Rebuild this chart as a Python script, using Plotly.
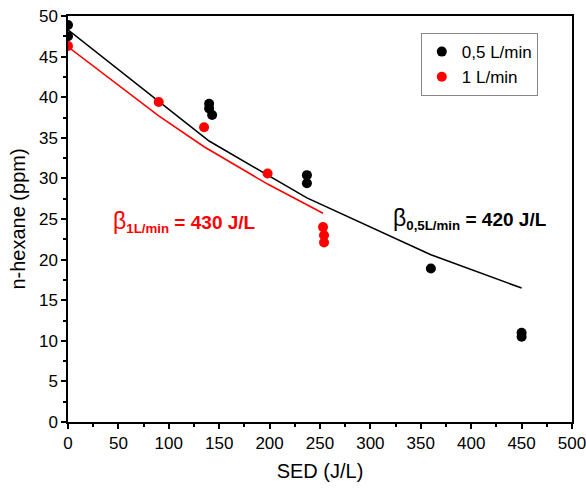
import plotly.graph_objects as go

# Data
sed_05 = [0, 0, 140, 140, 143, 237, 237, 360, 450, 450]
hex_05 = [48.9, 47.5, 39.2, 38.6, 37.8, 30.4, 29.4, 18.9, 11.0, 10.5]

sed_1 = [0, 90, 135, 198, 253, 254, 254]
hex_1 = [46.3, 39.4, 36.3, 30.6, 24.0, 23.0, 22.1]

fit_x_05 = [0, 140, 237, 360, 450]
fit_y_05 = [48.3, 34.6, 27.6, 20.6, 16.5]

fit_x_1 = [0, 90, 135, 198, 253]
fit_y_1 = [46.2, 37.7, 33.9, 29.3, 25.7]

x_ticks = [0, 50, 100, 150, 200, 250, 300, 350, 400, 450, 500]
y_ticks = [0, 5, 10, 15, 20, 25, 30, 35, 40, 45, 50]

FONT = "Liberation Sans, Arial, sans-serif"

fig = go.Figure()
fig.add_trace(go.Scatter(x=fit_x_05, y=fit_y_05, mode="lines",
                         line=dict(color="black", width=1.6), showlegend=False))
fig.add_trace(go.Scatter(x=fit_x_1, y=fit_y_1, mode="lines",
                         line=dict(color="#ff0000", width=1.6), showlegend=False))
fig.add_trace(go.Scatter(x=sed_05, y=hex_05, mode="markers", name="0,5 L/min",
                         marker=dict(color="black", size=10)))
fig.add_trace(go.Scatter(x=sed_1, y=hex_1, mode="markers", name="1 L/min",
                         marker=dict(color="#ff0000", size=10)))

fig.add_annotation(x=399, y=25.0, xref="x", yref="y", showarrow=False,
                   text="<span style='font-size:23px'>β</span><b><sub>0,5L/min</sub> = 420 J/L</b>",
                   font=dict(family=FONT, size=19, color="black"))
fig.add_annotation(x=116, y=24.6, xref="x", yref="y", showarrow=False,
                   text="<span style='font-size:23px'>β</span><b><sub>1L/min</sub> = 430 J/L</b>",
                   font=dict(family=FONT, size=19, color="#ff0000"))

axis_common = dict(
    showgrid=False, zeroline=False, showline=True, linecolor="black", linewidth=1.5,
    mirror=True, ticks="outside", ticklen=5, tickwidth=1.5, tickcolor="black",
    tickfont=dict(family=FONT, size=17, color="black"), automargin=False,
    ticklabeloverflow="allow",
)

fig.update_layout(
    width=586, height=489,
    margin=dict(l=68, r=14, t=16, b=67),
    plot_bgcolor="white", paper_bgcolor="white",
    font=dict(family=FONT, color="black"),
    xaxis=dict(range=[0, 500], tickvals=x_ticks, ticktext=[str(v) for v in x_ticks],
               minor=dict(ticks="outside", ticklen=3, tickwidth=1.5, tickcolor="black", dtick=25),
               title=dict(text="SED (J/L)", font=dict(family=FONT, size=20), standoff=12),
               **axis_common),
    yaxis=dict(range=[0, 50], tickvals=y_ticks, ticktext=[str(v) for v in y_ticks],
               minor=dict(ticks="outside", ticklen=3, tickwidth=1.5, tickcolor="black", dtick=2.5),
               title=dict(text="n-hexane (ppm)", font=dict(family=FONT, size=20), standoff=8),
               **axis_common),
    legend=dict(x=0.70, y=0.958, xanchor="left", yanchor="top",
                bordercolor="#888888", borderwidth=1, bgcolor="white",
                font=dict(family=FONT, size=17), itemwidth=30,
                tracegroupgap=0),
)

fig.write_html("out.html", config={"displayModeBar": False},
               post_script="document.body.style.margin='0';document.body.style.overflow='hidden';")
